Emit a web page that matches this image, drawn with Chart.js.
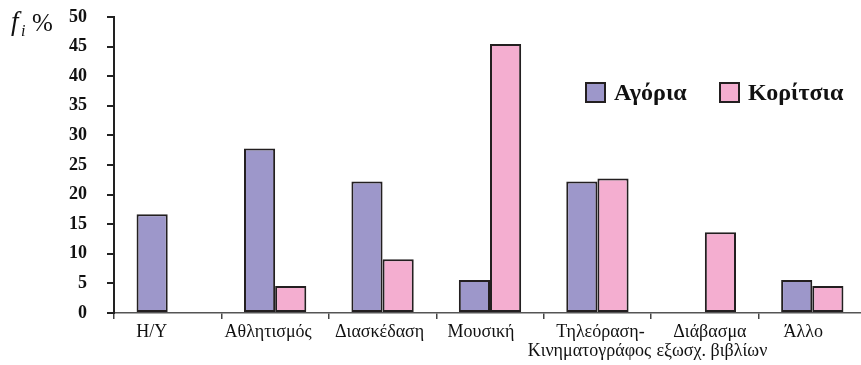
<!DOCTYPE html>
<html>
<head>
<meta charset="utf-8">
<script src="https://cdn.jsdelivr.net/npm/chart.js@4/dist/chart.umd.min.js"></script>
<style>
    html, body { margin: 0; padding: 0; background: #fff; overflow: hidden; }
    #wrap { width: 861px; height: 365px; overflow: hidden; }
</style>
</head>
<body>
<div id="wrap"><canvas id="activityChart" width="870" height="365"></canvas></div>
<script>
var categories = ['Η/Υ', 'Αθλητισμός', 'Διασκέδαση', 'Μουσική', ['Τηλεόραση-', 'Κινηματογράφος'], ['Διάβασμα', 'εξωσχ. βιβλίων'], 'Άλλο'];
var boys = [16.67, 27.78, 22.22, 5.56, 22.22, 0, 5.56];
var girls = [0, 4.55, 9.09, 45.45, 22.73, 13.64, 4.55];
var seriesNames = ['Αγόρια', 'Κορίτσια'];
var yTicks = [0, 5, 10, 15, 20, 25, 30, 35, 40, 45, 50];

var serif = "'Liberation Serif', 'DejaVu Serif', serif";
var edge = '#231f20';

// the original labels sit a little off the category centres
var labelNudge = [[-16], [-7], [-3], [-9], [3, -8], [5, 7], [-9]];

// f_i % above the y axis
var axisTitle = {
    id: 'axisTitle',
    afterDraw: function (chart) {
        var c = chart.ctx;
        c.save();
        c.fillStyle = '#111';
        c.textBaseline = 'alphabetic';
        c.font = 'italic 27px ' + serif;
        c.fillText('f', 11, 30);
        c.font = 'italic 16px ' + serif;
        c.fillText('i', 21, 36);
        c.font = '25px ' + serif;
        c.fillText('%', 32, 31);
        c.restore();
    }
};

// category names under the x axis
var categoryLabels = {
    id: 'categoryLabels',
    afterDraw: function (chart) {
        var c = chart.ctx;
        var xs = chart.scales.x;
        c.save();
        c.fillStyle = '#111';
        c.font = '18px ' + serif;
        c.textAlign = 'center';
        c.textBaseline = 'alphabetic';
        chart.data.labels.forEach(function (lab, i) {
            var lines = Array.isArray(lab) ? lab : [lab];
            lines.forEach(function (txt, j) {
                var x = xs.getPixelForValue(i) + (labelNudge[i][j] || 0);
                c.fillText(txt, x, xs.top + 24 + j * 19);
            });
        });
        c.restore();
    }
};

// legend boxes drawn inside the plot
var boxLegend = {
    id: 'boxLegend',
    afterDraw: function (chart) {
        var c = chart.ctx;
        var x = 585, y = 82;
        c.save();
        c.font = 'bold 24px ' + serif;
        c.textBaseline = 'middle';
        chart.data.datasets.forEach(function (ds) {
            c.fillStyle = ds.backgroundColor;
            c.fillRect(x, y, 21, 21);
            c.lineWidth = 2;
            c.strokeStyle = edge;
            c.strokeRect(x + 1, y + 1, 19, 19);
            c.fillStyle = '#111';
            c.fillText(ds.label, x + 29, y + 12);
            x += 134;
        });
        c.restore();
    }
};

var ctx = document.getElementById('activityChart');
var activityChart = new Chart(ctx, {
    type: 'bar',
    data: {
        labels: categories,
        datasets: [{
            label: seriesNames[0],
            data: boys,
            backgroundColor: '#9d97ca',
            borderColor: edge,
            borderWidth: 2,
            borderSkipped: false
        }, {
            label: seriesNames[1],
            data: girls,
            backgroundColor: '#f4aed0',
            borderColor: edge,
            borderWidth: 2,
            borderSkipped: false
        }]
    },
    options: {
        responsive: false,
        animation: false,
        layout: { padding: { top: 17, right: 4, left: 0, bottom: 0 } },
        datasets: { bar: { categoryPercentage: 0.58, barPercentage: 1.0 } },
        plugins: {
            legend: { display: false },
            tooltip: { enabled: false }
        },
        scales: {
            x: {
                afterFit: function (scale) {
                    scale.height = 52;
                    scale.paddingLeft = 0;
                    scale.paddingRight = 0;
                },
                grid: {
                    drawOnChartArea: false,
                    drawTicks: true,
                    tickLength: 6,
                    color: '#444',
                    lineWidth: 1.5,
                    offset: true
                },
                border: { color: '#555', width: 1.5 },
                ticks: { display: false }
            },
            y: {
                min: 0,
                max: 50,
                afterFit: function (scale) {
                    scale.width = 114;
                    scale.paddingTop = 0;
                    scale.paddingBottom = 0;
                },
                afterBuildTicks: function (scale) {
                    scale.ticks = yTicks.map(function (v) { return { value: v }; });
                },
                grid: {
                    drawOnChartArea: false,
                    drawTicks: true,
                    tickLength: 7,
                    color: '#222',
                    lineWidth: 2
                },
                border: { color: '#222', width: 2 },
                ticks: {
                    color: '#111',
                    font: { family: serif, size: 18, weight: 'bold' },
                    padding: 20
                }
            }
        }
    },
    plugins: [axisTitle, categoryLabels, boxLegend]
});
</script>
</body>
</html>
